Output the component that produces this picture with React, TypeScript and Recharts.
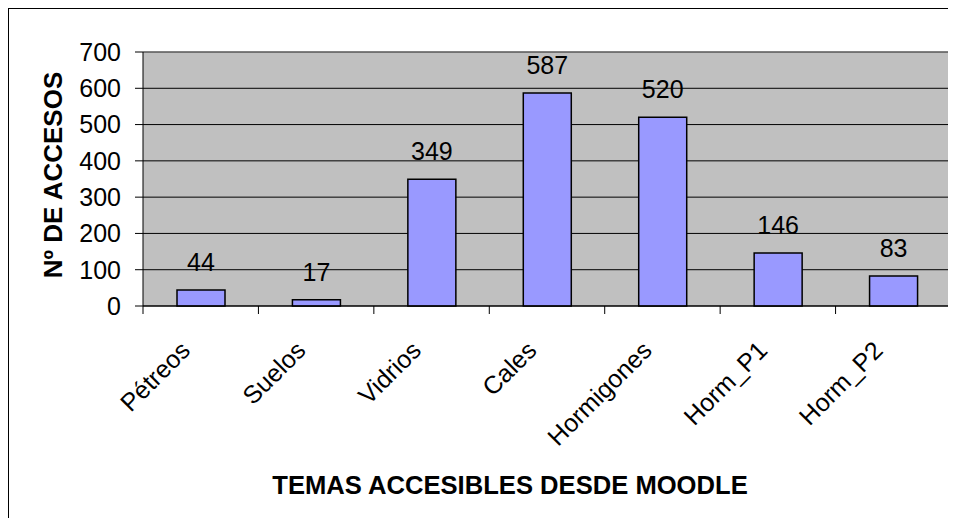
import { BarChart, Bar, XAxis, YAxis, CartesianGrid, LabelList, ReferenceLine } from "recharts";

const temas = ["Pétreos", "Suelos", "Vidrios", "Cales", "Hormigones", "Horm_P1", "Horm_P2"];
const accesos = [44, 17, 349, 587, 520, 146, 83];
const yTicks = [0, 100, 200, 300, 400, 500, 600, 700];

const data = temas.map((tema, i) => ({ tema, accesos: accesos[i] }));

const FONT = "'Liberation Sans', Arial, sans-serif";

function TemaTick(props: any) {
  const { x, y, payload, index } = props;
  const half = payload?.offset ?? 57.7;
  const bx = x - 9;
  const by = y + 46;
  return (
    <g>
      <line x1={x - half} y1={y} x2={x - half} y2={y + 8} stroke="#000" />
      {index === temas.length - 1 && (
        <line x1={x + half} y1={y} x2={x + half} y2={y + 8} stroke="#000" />
      )}
      <text
        x={bx}
        y={by}
        textAnchor="end"
        transform={`rotate(-45 ${bx} ${by})`}
        fontSize={25}
        fontFamily={FONT}
        fill="#000"
      >
        {payload.value}
      </text>
    </g>
  );
}

export default function App() {
  return (
    <div
      style={{
        width: 960,
        height: 520,
        borderLeft: "1px solid #000",
        borderTop: "1px solid #000",
        background: "#fff",
      }}
    >
      <BarChart
        width={950}
        height={510}
        data={data}
        margin={{ top: 43, right: 8, bottom: 0, left: 0 }}
        barSize={48}
      >
        <CartesianGrid
          vertical={false}
          stroke="#000"
          strokeWidth={1}
          fill="#C0C0C0"
          fillOpacity={1}
        />
        <XAxis
          dataKey="tema"
          height={213}
          tickSize={0}
          tickMargin={0}
          tickLine={false}
          axisLine={{ stroke: "#000" }}
          interval={0}
          tick={<TemaTick />}
          label={{
            content: () => (
              <text
                x={501}
                y={485}
                textAnchor="middle"
                fontSize={25.6}
                fontWeight="bold"
                fontFamily={FONT}
                fill="#000"
              >
                TEMAS ACCESIBLES DESDE MOODLE
              </text>
            ),
          }}
        />
        <YAxis
          width={134}
          domain={[0, 700]}
          ticks={yTicks}
          interval={0}
          tickSize={8}
          tickMargin={14}
          tickLine={{ stroke: "#000" }}
          axisLine={{ stroke: "#000" }}
          tick={{ fontSize: 25, fontFamily: FONT, fill: "#000" }}
          label={{
            content: () => (
              <text
                x={53}
                y={166}
                textAnchor="middle"
                transform="rotate(-90 53 166)"
                fontSize={26}
                fontWeight="bold"
                fontFamily={FONT}
                fill="#000"
              >
                Nº DE ACCESOS
              </text>
            ),
          }}
        />
        <YAxis
          yAxisId="right"
          orientation="right"
          width={0}
          domain={[0, 700]}
          tick={false}
          tickLine={false}
          axisLine={{ stroke: "#808080" }}
        />
        <ReferenceLine y={700} stroke="#808080" strokeWidth={1} />
        <Bar dataKey="accesos" fill="#9999FF" stroke="#000" strokeWidth={1.5} isAnimationActive={false}>
          <LabelList
            dataKey="accesos"
            position="top"
            offset={19}
            fontSize={25}
            fontFamily={FONT}
            fill="#000"
          />
        </Bar>
      </BarChart>
    </div>
  );
}
